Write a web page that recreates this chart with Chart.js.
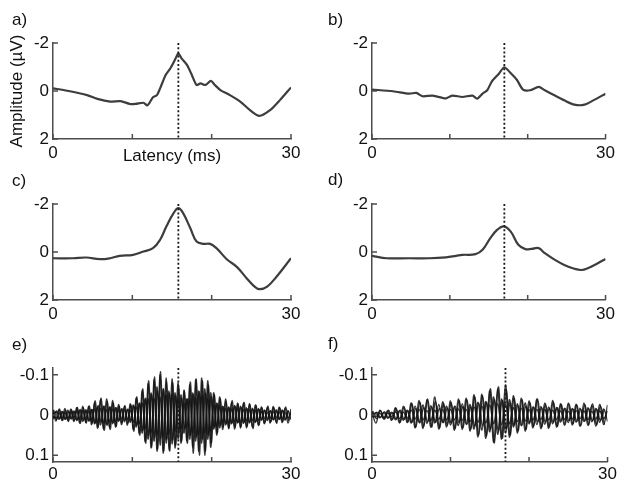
<!DOCTYPE html>
<html>
<head>
<meta charset="utf-8">
<script src="https://cdn.jsdelivr.net/npm/chart.js@4.4.1/dist/chart.umd.min.js"></script>
<style>
  html, body { margin: 0; padding: 0; background: #fff; }
  #wrap { position: relative; width: 619px; height: 485px; }
  canvas { position: absolute; }
</style>
</head>
<body>
<div id="wrap">
  <canvas id="pa" width="310" height="170" style="left:0;top:0"></canvas>
  <canvas id="pb" width="309" height="170" style="left:310px;top:0"></canvas>
  <canvas id="pc" width="310" height="160" style="left:0;top:170px"></canvas>
  <canvas id="pd" width="309" height="160" style="left:310px;top:170px"></canvas>
  <canvas id="pe" width="310" height="155" style="left:0;top:330px"></canvas>
  <canvas id="pf" width="309" height="155" style="left:310px;top:330px"></canvas>
</div>
<script>
// ---- axes / ticks ----
const latTicks = [0, 10, 20, 30];
const latLabels = ['0', '', '', '30'];
const ampTicks = [-2, 0, 2];
const ampLabels = ['-2', '0', '2'];
const ripTicks = [-0.1, 0, 0.1];
const ripLabels = ['-0.1', '0', '0.1'];

// peak latency (ms) marked by the dotted line
const peakLeft = 15.8;   // a, c, e
const peakRight = 17.0;  // b, d, f

// ---- a) ----
const aTime = [0, 1.8, 4.3, 5.6, 7.2, 8.5, 9.7, 10.4, 11.4, 11.9, 12.6, 13.1, 13.5, 14.2, 14.8, 15.4, 15.8, 16.2, 16.9, 17.5, 18.1, 18.6, 19.2, 19.9, 20.4, 21.1, 22.3, 23.6, 24.8, 26.0, 27.4, 28.6, 30];
const aAmp = [-0.11, -0.01, 0.17, 0.33, 0.44, 0.42, 0.54, 0.54, 0.49, 0.6, 0.26, 0.17, -0.11, -0.67, -0.95, -1.32, -1.57, -1.36, -1.08, -0.67, -0.25, -0.32, -0.25, -0.42, -0.25, -0.04, 0.17, 0.44, 0.79, 1.04, 0.79, 0.38, -0.15];

// ---- b) ----
const bTime = [0, 2.7, 4.8, 5.7, 6.5, 7.8, 9.1, 9.5, 10.3, 11.6, 12.9, 13.5, 14.2, 14.8, 15.4, 16.3, 17.0, 17.8, 18.6, 19.4, 20.3, 21.4, 22.2, 23.5, 24.7, 26.0, 27.3, 28.6, 30];
const bAmp = [-0.06, 0.01, 0.11, 0.08, 0.22, 0.19, 0.29, 0.31, 0.19, 0.25, 0.19, 0.32, 0.11, -0.03, -0.4, -0.72, -0.99, -0.75, -0.47, -0.06, -0.03, -0.17, -0.03, 0.19, 0.39, 0.57, 0.57, 0.36, 0.11];

// ---- c) ----
const cTime = [0, 2.5, 4.2, 5.9, 7.2, 8.4, 10.1, 11.4, 12.6, 13.5, 14.3, 15.2, 15.8, 16.4, 17.3, 18.1, 19.0, 19.8, 20.6, 21.9, 23.2, 24.4, 25.3, 26.0, 27.0, 28.2, 30];
const cAmp = [0.26, 0.26, 0.23, 0.3, 0.26, 0.16, 0.12, -0.02, -0.16, -0.51, -1.07, -1.62, -1.83, -1.62, -1.0, -0.44, -0.34, -0.34, -0.16, 0.3, 0.63, 1.09, 1.41, 1.55, 1.44, 1.02, 0.26];

// ---- d) ----
const dTime = [0, 1.9, 4.8, 7.4, 9.5, 10.8, 11.6, 13.3, 14.2, 15.2, 16.1, 16.9, 17.8, 18.8, 19.7, 20.5, 21.4, 22.2, 23.5, 24.7, 26.0, 26.9, 27.7, 29.0, 30];
const dAmp = [0.16, 0.26, 0.26, 0.26, 0.22, 0.16, 0.12, 0.09, -0.09, -0.58, -0.93, -1.07, -0.86, -0.3, -0.12, -0.13, -0.16, 0.05, 0.33, 0.54, 0.7, 0.75, 0.68, 0.47, 0.29];

// ---- e) sweeps, sampled at successive half-cycle extremes ----
const eTimeA = Array.from({length: 81}, (_, i) => i * 0.375);
const eTimeB = Array.from({length: 80}, (_, i) => 0.07 + i * 0.375);
const eSweepA1 = [-0.012, 0.015, -0.014, 0.013, -0.016, 0.014, -0.015, 0.016,
  -0.018, 0.02, -0.022, 0.019, -0.021, 0.024,
  -0.03, 0.033, -0.038, 0.035, -0.04, 0.032, -0.036, 0.03,
  -0.026, 0.024, -0.022, 0.025, -0.028,
  0.035, -0.042, 0.045,
  -0.06, 0.066,
  -0.078, 0.082, -0.088,
  0.09, -0.1, 0.095, -0.092, 0.088, -0.09,
  0.082, -0.08, 0.07,
  -0.062, 0.064,
  -0.075, 0.08, -0.088, 0.09, -0.092, 0.1, -0.085, 0.08,
  -0.055, 0.05, -0.045,
  0.036, -0.04, 0.034, -0.032, 0.035, -0.03, 0.033, -0.03,
  0.032, -0.028, 0.03, -0.025, 0.026,
  -0.02, 0.022, -0.018, 0.02, -0.021, 0.018, -0.02, 0.019, -0.017, 0.02, -0.015];
const eSweepA2 = [0.01, -0.008, 0.011, -0.009, 0.01, -0.012, 0.009, -0.01,
  0.014, -0.012, 0.016, -0.013, 0.015, -0.014,
  0.022, -0.02, 0.025, -0.022, 0.024, -0.02, 0.022, -0.018,
  0.016, -0.015, 0.017, -0.014, 0.018,
  -0.025, 0.03, -0.028,
  0.045, -0.04,
  0.06, -0.055, 0.065,
  -0.07, 0.075, -0.065, 0.07, -0.06, 0.072,
  -0.055, 0.06, -0.05,
  0.045, -0.04,
  0.06, -0.055, 0.065, -0.06, 0.07, -0.065, 0.06, -0.055,
  0.035, -0.03, 0.032,
  -0.022, 0.025, -0.02, 0.022, -0.024, 0.02, -0.022, 0.021,
  -0.018, 0.02, -0.017, 0.019, -0.016,
  0.013, -0.012, 0.014, -0.011, 0.012, -0.013, 0.011, -0.012, 0.013, -0.01, 0.012];
const eSweepA3 = [-0.006, 0.008, -0.005, 0.007, -0.006, 0.008, -0.007, 0.006,
  -0.01, 0.009, -0.011, 0.01, -0.009, 0.012,
  -0.015, 0.018, -0.016, 0.02, -0.014, 0.017, -0.015, 0.016,
  -0.012, 0.01, -0.013, 0.011, -0.012,
  0.018, -0.02, 0.022,
  -0.03, 0.035,
  -0.04, 0.045, -0.042,
  0.05, -0.045, 0.055, -0.05, 0.048, -0.052,
  0.04, -0.038, 0.035,
  -0.03, 0.032,
  -0.04, 0.045, -0.042, 0.05, -0.048, 0.045, -0.04, 0.042,
  -0.025, 0.028, -0.022,
  0.018, -0.016, 0.02, -0.015, 0.017, -0.016, 0.018, -0.014,
  0.015, -0.013, 0.014, -0.012, 0.013,
  -0.008, 0.009, -0.007, 0.008, -0.009, 0.007, -0.008, 0.009, -0.006, 0.008, -0.007];
const eSweepB1 = [-0.013, 0.012, -0.015, 0.014, -0.012, 0.016, -0.013, 0.014,
  -0.019, 0.021, -0.018, 0.02, -0.023, 0.02,
  -0.035, 0.03, -0.042, 0.038, -0.034, 0.036, -0.03, 0.028,
  -0.022, 0.02, -0.024, 0.021, -0.025,
  0.04, -0.045, 0.05,
  -0.065, 0.07,
  -0.085, 0.08, -0.095,
  0.085, -0.108, 0.09, -0.085, 0.09, -0.08,
  0.075, -0.07, 0.065,
  -0.06, 0.07,
  -0.082, 0.095, -0.09, 0.1, -0.085, 0.09, -0.075, 0.07,
  -0.05, 0.045, -0.04,
  0.03, -0.034, 0.032, -0.036, 0.03, -0.028, 0.03, -0.032,
  0.028, -0.026, 0.034, -0.024, 0.025,
  -0.018, 0.02, -0.022, 0.017, -0.019, 0.021, -0.018, 0.016, -0.02, 0.015];
const eSweepB2 = [0.008, -0.01, 0.009, -0.008, 0.011, -0.009, 0.01, -0.008,
  0.012, -0.014, 0.013, -0.012, 0.015, -0.013,
  0.02, -0.024, 0.018, -0.022, 0.026, -0.02, 0.019, -0.018,
  0.014, -0.016, 0.013, -0.015, 0.014,
  -0.022, 0.025, -0.03,
  0.038, -0.042,
  0.05, -0.052, 0.055,
  -0.06, 0.058, -0.065, 0.06, -0.055, 0.062,
  -0.048, 0.045, -0.042,
  0.035, -0.04,
  0.05, -0.052, 0.055, -0.058, 0.06, -0.054, 0.05, -0.045,
  0.03, -0.028, 0.026,
  -0.02, 0.022, -0.018, 0.02, -0.022, 0.019, -0.02, 0.018,
  -0.016, 0.018, -0.015, 0.017, -0.014,
  0.011, -0.012, 0.01, -0.011, 0.012, -0.01, 0.011, -0.012, 0.01, -0.011];

// ---- f) sweeps ----
const fTimeA = Array.from({length: 61}, (_, i) => i * 0.5);
const fTimeB = Array.from({length: 60}, (_, i) => 0.09 + i * 0.5);
const fSweepA1 = [-0.008, 0.02, -0.012, 0.01, -0.011, 0.013,
  -0.018, 0.02, -0.022, 0.019,
  -0.03, 0.032, -0.036, 0.034, -0.038, 0.03, -0.045, 0.035, -0.033, 0.03,
  -0.035, 0.038, -0.04, 0.036, -0.042, 0.04,
  -0.05, 0.055, -0.052, 0.058,
  -0.06, 0.068, -0.065, 0.06, -0.075, 0.055,
  -0.048, 0.045, -0.042, 0.04,
  -0.035, 0.032, -0.04, 0.034, -0.03, 0.033, -0.036, 0.03,
  -0.028, 0.026, -0.03, 0.025, -0.027, 0.028, -0.03, 0.026, -0.025, 0.028, -0.026, 0.024, -0.025];
const fSweepA2 = [0.005, -0.006, 0.007, -0.006, 0.008, -0.007,
  0.012, -0.011, 0.013, -0.012,
  0.02, -0.022, 0.018, -0.025, 0.021, -0.023, 0.02, -0.026, 0.019, -0.022,
  0.025, -0.022, 0.026, -0.028, 0.024, -0.026,
  0.035, -0.032, 0.038, -0.034,
  0.042, -0.045, 0.048, -0.04, 0.045, -0.038,
  0.03, -0.028, 0.027, -0.03,
  0.022, -0.02, 0.024, -0.021, 0.023, -0.02, 0.022, -0.019,
  0.018, -0.017, 0.019, -0.016, 0.018, -0.017, 0.016, -0.018, 0.017, -0.016, 0.018, -0.015, 0.016];
const fSweepA3 = [-0.004, 0.005, -0.004, 0.006, -0.005, 0.004,
  -0.008, 0.009, -0.007, 0.008,
  -0.012, 0.01, -0.014, 0.012, -0.011, 0.013, -0.012, 0.011, -0.013, 0.012,
  -0.014, 0.012, -0.015, 0.013, -0.014, 0.016,
  -0.02, 0.018, -0.022, 0.02,
  -0.025, 0.022, -0.028, 0.024, -0.026, 0.022,
  -0.018, 0.016, -0.017, 0.015,
  -0.013, 0.012, -0.014, 0.011, -0.013, 0.012, -0.012, 0.011,
  -0.01, 0.011, -0.009, 0.01, -0.011, 0.009, -0.01, 0.011, -0.009, 0.01, -0.01, 0.009, -0.01];
const fSweepB1 = [-0.01, 0.009, -0.011, 0.01, -0.012, 0.011,
  -0.016, 0.018, -0.02, 0.017,
  -0.028, 0.03, -0.032, 0.028, -0.04, 0.03, -0.034, 0.032, -0.028, 0.026,
  -0.03, 0.034, -0.036, 0.032, -0.038, 0.035,
  -0.045, 0.05, -0.048, 0.052,
  -0.065, 0.07, -0.07, 0.058, -0.062, 0.05,
  -0.042, 0.04, -0.038, 0.036,
  -0.03, 0.028, -0.04, 0.03, -0.028, 0.03, -0.032, 0.028,
  -0.026, 0.024, -0.028, 0.022, -0.025, 0.027, -0.026, 0.024, -0.028, 0.025, -0.022, 0.024];
const fSweepB2 = [0.006, -0.007, 0.006, -0.008, 0.007, -0.006,
  0.01, -0.012, 0.011, -0.01,
  0.018, -0.016, 0.02, -0.018, 0.017, -0.02, 0.018, -0.016, 0.019, -0.017,
  0.02, -0.022, 0.019, -0.021, 0.023, -0.02,
  0.028, -0.03, 0.027, -0.032,
  0.035, -0.038, 0.04, -0.036, 0.034, -0.03,
  0.025, -0.024, 0.026, -0.022,
  0.018, -0.02, 0.017, -0.019, 0.018, -0.017, 0.019, -0.018,
  0.015, -0.016, 0.014, -0.015, 0.016, -0.014, 0.015, -0.016, 0.014, -0.015, 0.013, -0.014];

// ---- drawing ----
const FONT = "'Liberation Sans', Arial, Helvetica, sans-serif";
const AXIS = '#4d4d4d';
const TXT = '#111';
const FS = 17;

const xy = (t, v) => t.map((x, i) => ({x: x, y: v[i]}));

// matlab-like inward tick marks + panel letter
const panelDecor = {
  id: 'panelDecor',
  afterDraw(chart, args, opts) {
    const {ctx, chartArea: a, scales: {x, y}} = chart;
    ctx.save();
    ctx.strokeStyle = AXIS;
    ctx.lineWidth = 1.5;
    ctx.beginPath();
    x.ticks.forEach(t => {
      const px = x.getPixelForValue(t.value);
      ctx.moveTo(px, a.bottom);
      ctx.lineTo(px, a.bottom - 5);
    });
    y.ticks.forEach(t => {
      const py = y.getPixelForValue(t.value);
      ctx.moveTo(a.left, py);
      ctx.lineTo(a.left + 5, py);
    });
    ctx.stroke();
    ctx.fillStyle = TXT;
    ctx.font = FS + 'px ' + FONT;
    ctx.textAlign = 'left';
    ctx.textBaseline = 'alphabetic';
    ctx.fillText(opts.letter, opts.lx, opts.ly);
    ctx.restore();
  }
};

function panel(id, p) {
  const canvas = document.getElementById(id);
  const W = canvas.width, H = canvas.height;
  const [l, t, r, b] = p.area;
  const datasets = [{
    data: [{x: p.peak, y: p.yMin}, {x: p.peak, y: p.yMax}],
    borderColor: '#1a1a1a', borderWidth: 1.8, borderDash: [2, 2.2],
    pointRadius: 0, tension: 0
  }];
  p.series.forEach(s => datasets.push({
    data: xy(s.t, s.v),
    borderColor: p.lineColor, borderWidth: p.lineWidth,
    pointRadius: 0, tension: p.tension
  }));
  new Chart(canvas, {
    type: 'line',
    data: {datasets: datasets},
    options: {
      responsive: false,
      animation: false,
      events: [],
      layout: {padding: {left: 0, top: t, right: W - r, bottom: 0}},
      plugins: {
        legend: {display: false},
        tooltip: {enabled: false},
        panelDecor: {letter: p.letter, lx: p.lx, ly: p.ly}
      },
      scales: {
        x: {
          type: 'linear', min: 0, max: 30,
          afterBuildTicks: s => { s.ticks = latTicks.map(v => ({value: v})); },
          afterFit: s => { s.height = H - b; },
          grid: {display: false, drawTicks: false},
          border: {display: true, color: AXIS, width: 1.5},
          ticks: {
            padding: p.xPad, maxRotation: 0, autoSkip: false, color: TXT,
            font: {family: FONT, size: FS},
            callback: (v, i) => latLabels[i]
          },
          title: {
            display: !!p.xTitle, text: p.xTitle || '', color: TXT,
            font: {family: FONT, size: FS}, padding: {top: 0, bottom: 3}
          }
        },
        y: {
          type: 'linear', reverse: true, min: p.yMin, max: p.yMax,
          afterBuildTicks: s => { s.ticks = p.yTicks.map(v => ({value: v})); },
          afterFit: s => { s.width = l; },
          grid: {display: false, drawTicks: false},
          border: {display: true, color: AXIS, width: 1.5},
          ticks: {
            padding: 4, color: TXT, font: {family: FONT, size: FS},
            callback: (v, i) => p.yLabels[i]
          },
          title: {
            display: !!p.yTitle, text: p.yTitle || '', color: TXT,
            font: {family: FONT, size: FS}, padding: {top: 7, bottom: 0}
          }
        }
      }
    },
    plugins: [panelDecor]
  });
}

const avg = {lineColor: '#3d3d3d', lineWidth: 2.2, yMin: -2, yMax: 2, yTicks: ampTicks, yLabels: ampLabels, xPad: 4};
const rip = {lineColor: 'rgba(20,20,20,0.85)', lineWidth: 1.4, tension: 0.4, yMin: -0.117, yMax: 0.117, yTicks: ripTicks, yLabels: ripLabels, xPad: 2};

panel('pa', Object.assign({}, avg, {area: [53, 43, 291, 139], peak: peakLeft, tension: 0.25,
  series: [{t: aTime, v: aAmp}], letter: 'a)', lx: 12, ly: 25,
  xTitle: 'Latency (ms)', yTitle: 'Amplitude (\u00b5V)'}));
panel('pb', Object.assign({}, avg, {area: [62, 43, 298, 139], peak: peakRight, tension: 0.25,
  series: [{t: bTime, v: bAmp}], letter: 'b)', lx: 18, ly: 25}));
panel('pc', Object.assign({}, avg, {area: [53, 34, 291, 130], peak: peakLeft, tension: 0.4,
  series: [{t: cTime, v: cAmp}], letter: 'c)', lx: 12, ly: 16}));
panel('pd', Object.assign({}, avg, {area: [62, 34, 298, 130], peak: peakRight, tension: 0.4,
  series: [{t: dTime, v: dAmp}], letter: 'd)', lx: 18, ly: 15}));
panel('pe', Object.assign({}, rip, {area: [53, 38, 291, 132], peak: peakLeft,
  series: [{t: eTimeA, v: eSweepA1}, {t: eTimeA, v: eSweepA2}, {t: eTimeA, v: eSweepA3},
           {t: eTimeB, v: eSweepB1}, {t: eTimeB, v: eSweepB2}],
  letter: 'e)', lx: 12, ly: 20}));
panel('pf', Object.assign({}, rip, {area: [62, 38, 298, 132], peak: peakRight,
  series: [{t: fTimeA, v: fSweepA1}, {t: fTimeA, v: fSweepA2}, {t: fTimeA, v: fSweepA3},
           {t: fTimeB, v: fSweepB1}, {t: fTimeB, v: fSweepB2}],
  letter: 'f)', lx: 18, ly: 19}));
</script>
</body>
</html>
